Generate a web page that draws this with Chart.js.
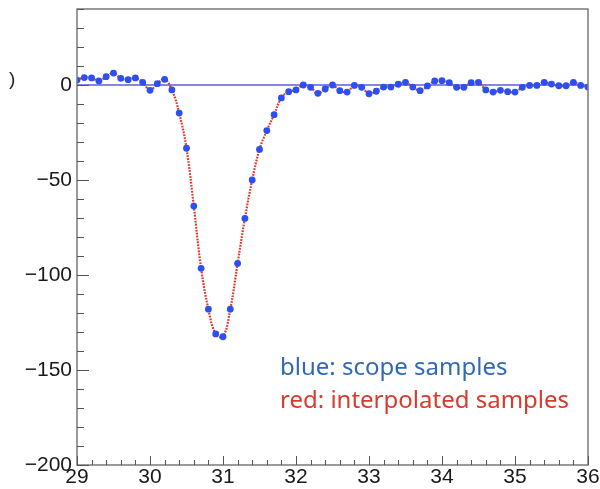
<!DOCTYPE html>
<html>
<head>
<meta charset="utf-8">
<script src="https://cdn.jsdelivr.net/npm/chart.js@4/dist/chart.umd.min.js"></script>
<style>
  body { margin: 0; background: #fff; }
  #wrap { width: 600px; height: 489px; }
</style>
</head>
<body>
<div id="wrap"><canvas id="myChart" width="600" height="489"></canvas></div>
<script>
// sample times (ns) of the scope samples
const sampleTimes = [
    29.0, 29.1, 29.2, 29.3, 29.4, 29.5, 29.6, 29.7, 29.8, 29.9,
    30.0, 30.1, 30.2, 30.3, 30.4, 30.5, 30.6, 30.7, 30.8, 30.9,
    31.0, 31.1, 31.2, 31.3, 31.4, 31.5, 31.6, 31.7, 31.8, 31.9,
    32.0, 32.1, 32.2, 32.3, 32.4, 32.5, 32.6, 32.7, 32.8, 32.9,
    33.0, 33.1, 33.2, 33.3, 33.4, 33.5, 33.6, 33.7, 33.8, 33.9,
    34.0, 34.1, 34.2, 34.3, 34.4, 34.5, 34.6, 34.7, 34.8, 34.9,
    35.0, 35.1, 35.2, 35.3, 35.4, 35.5, 35.6, 35.7, 35.8, 35.9,
    36.0
];

// scope sample amplitudes
const scopeValues = [
    2.6, 3.9, 3.7, 2.1, 4.4, 6.3, 3.5, 2.8, 3.7, 1.4,
    -2.8, 0.7, 3.0, -2.6, -14.8, -33.3, -63.7, -96.5, -118, -131,
    -132.5, -118, -93.9, -70.2, -50, -33.9, -24, -15.6, -6.8, -3.5,
    -2.6, 0, -1.2, -4.4, -2.1, 0, -3.0, -3.7, -0.2, -1.2,
    -4.6, -3.3, -1.1, -1.1, 0.4, 1.4, -1.1, -3.0, -0.5, 2.1,
    2.3, 1.2, -1.2, -1.2, 1.2, 1.4, -2.6, -3.7, -2.8, -3.5,
    -3.7, -1.2, -0.2, -0.2, 1.4, 0.5, -0.4, -0.4, 1.4, -0.2,
    -1.1
];

// baseline
const baseX = [29, 36];
const baseY = [0, 0];

const xTicks = [29, 30, 31, 32, 33, 34, 35, 36];
const yTicks = [-200, -150, -100, -50, 0];

const legendLines = ["blue: scope samples", "red: interpolated samples"];

const FONT = "'Liberation Sans', Arial, Helvetica, sans-serif";

const points = sampleTimes.map((t, i) => ({ x: t, y: scopeValues[i] }));
const baseline = baseX.map((t, i) => ({ x: t, y: baseY[i] }));

// ROOT-like frame with inward ticks, plus text labels
const frameTicks = {
    id: "frameTicks",
    afterDraw(chart) {
        const { ctx, chartArea: a, scales: { x, y } } = chart;
        ctx.save();
        ctx.strokeStyle = "#7a7a7a";
        ctx.lineWidth = 1.5;
        ctx.strokeRect(a.left, a.top, a.right - a.left, a.bottom - a.top);

        ctx.lineWidth = 1;
        ctx.strokeStyle = "#555";
        ctx.beginPath();
        for (let k = 0; k <= 35; k++) {
            const v = x.min + k * 0.2;
            const px = Math.round(x.getPixelForValue(v)) + 0.5;
            const len = k % 5 === 0 ? 9 : 5;
            ctx.moveTo(px, a.bottom);
            ctx.lineTo(px, a.bottom - len);
        }
        for (let v = y.min; v <= y.max; v += 10) {
            const py = Math.round(y.getPixelForValue(v)) + 0.5;
            const len = v % 50 === 0 ? 12 : 7;
            ctx.moveTo(a.left, py);
            ctx.lineTo(a.left + len, py);
        }
        ctx.stroke();

        // clipped axis title remnant
        ctx.fillStyle = "#222";
        ctx.font = "19px " + FONT;
        ctx.textBaseline = "alphabetic";
        ctx.fillText(")", 9, 85);

        ctx.font = "24px 'Noto Sans', " + FONT;
        ctx.fillStyle = "#3169b8";
        ctx.fillText(legendLines[0], 280, 375);
        ctx.fillStyle = "#d83a2d";
        ctx.fillText(legendLines[1], 280, 408);
        ctx.restore();
    }
};

const minus = v => (v < 0 ? "\u2212" + Math.abs(v) : String(v));

const config = {
    type: "scatter",
    data: {
        datasets: [
            {
                // scope samples
                data: points,
                backgroundColor: "#2b4ff0",
                borderWidth: 0,
                pointRadius: 3.4,
                order: 0
            },
            {
                // interpolated samples
                type: "line",
                data: points,
                borderColor: "#e0382c",
                borderWidth: 2.2,
                borderDash: [1.8, 1.2],
                tension: 0.4,
                pointRadius: 0,
                fill: false,
                order: 1
            },
            {
                type: "line",
                data: baseline,
                borderColor: "#5c5cd8",
                borderWidth: 1.3,
                pointRadius: 0,
                tension: 0,
                order: 2
            }
        ]
    },
    options: {
        responsive: false,
        animation: false,
        layout: { padding: { top: 9, right: 12, left: 0, bottom: 0 } },
        plugins: {
            legend: { display: false },
            tooltip: { enabled: false }
        },
        scales: {
            x: {
                type: "linear",
                min: 29,
                max: 36,
                afterBuildTicks: s => { s.ticks = xTicks.map(v => ({ value: v })); },
                afterFit: s => { s.height = 24; s.paddingLeft = 0; s.paddingRight = 0; },
                grid: { display: false, drawTicks: false },
                border: { display: false },
                ticks: {
                    color: "#1a1a1a",
                    padding: 0,
                    maxRotation: 0,
                    autoSkip: false,
                    font: { family: FONT, size: 21 }
                }
            },
            y: {
                type: "linear",
                min: -200,
                max: 40,
                afterBuildTicks: s => { s.ticks = yTicks.map(v => ({ value: v })); },
                afterFit: s => { s.width = 77; s.paddingTop = 0; s.paddingBottom = 0; },
                grid: { display: false, drawTicks: false },
                border: { display: false },
                ticks: {
                    color: "#1a1a1a",
                    padding: 5,
                    font: { family: FONT, size: 21 },
                    callback: v => minus(v)
                }
            }
        }
    },
    plugins: [frameTicks]
};

const myChart = new Chart(document.getElementById("myChart"), config);
</script>
</body>
</html>
